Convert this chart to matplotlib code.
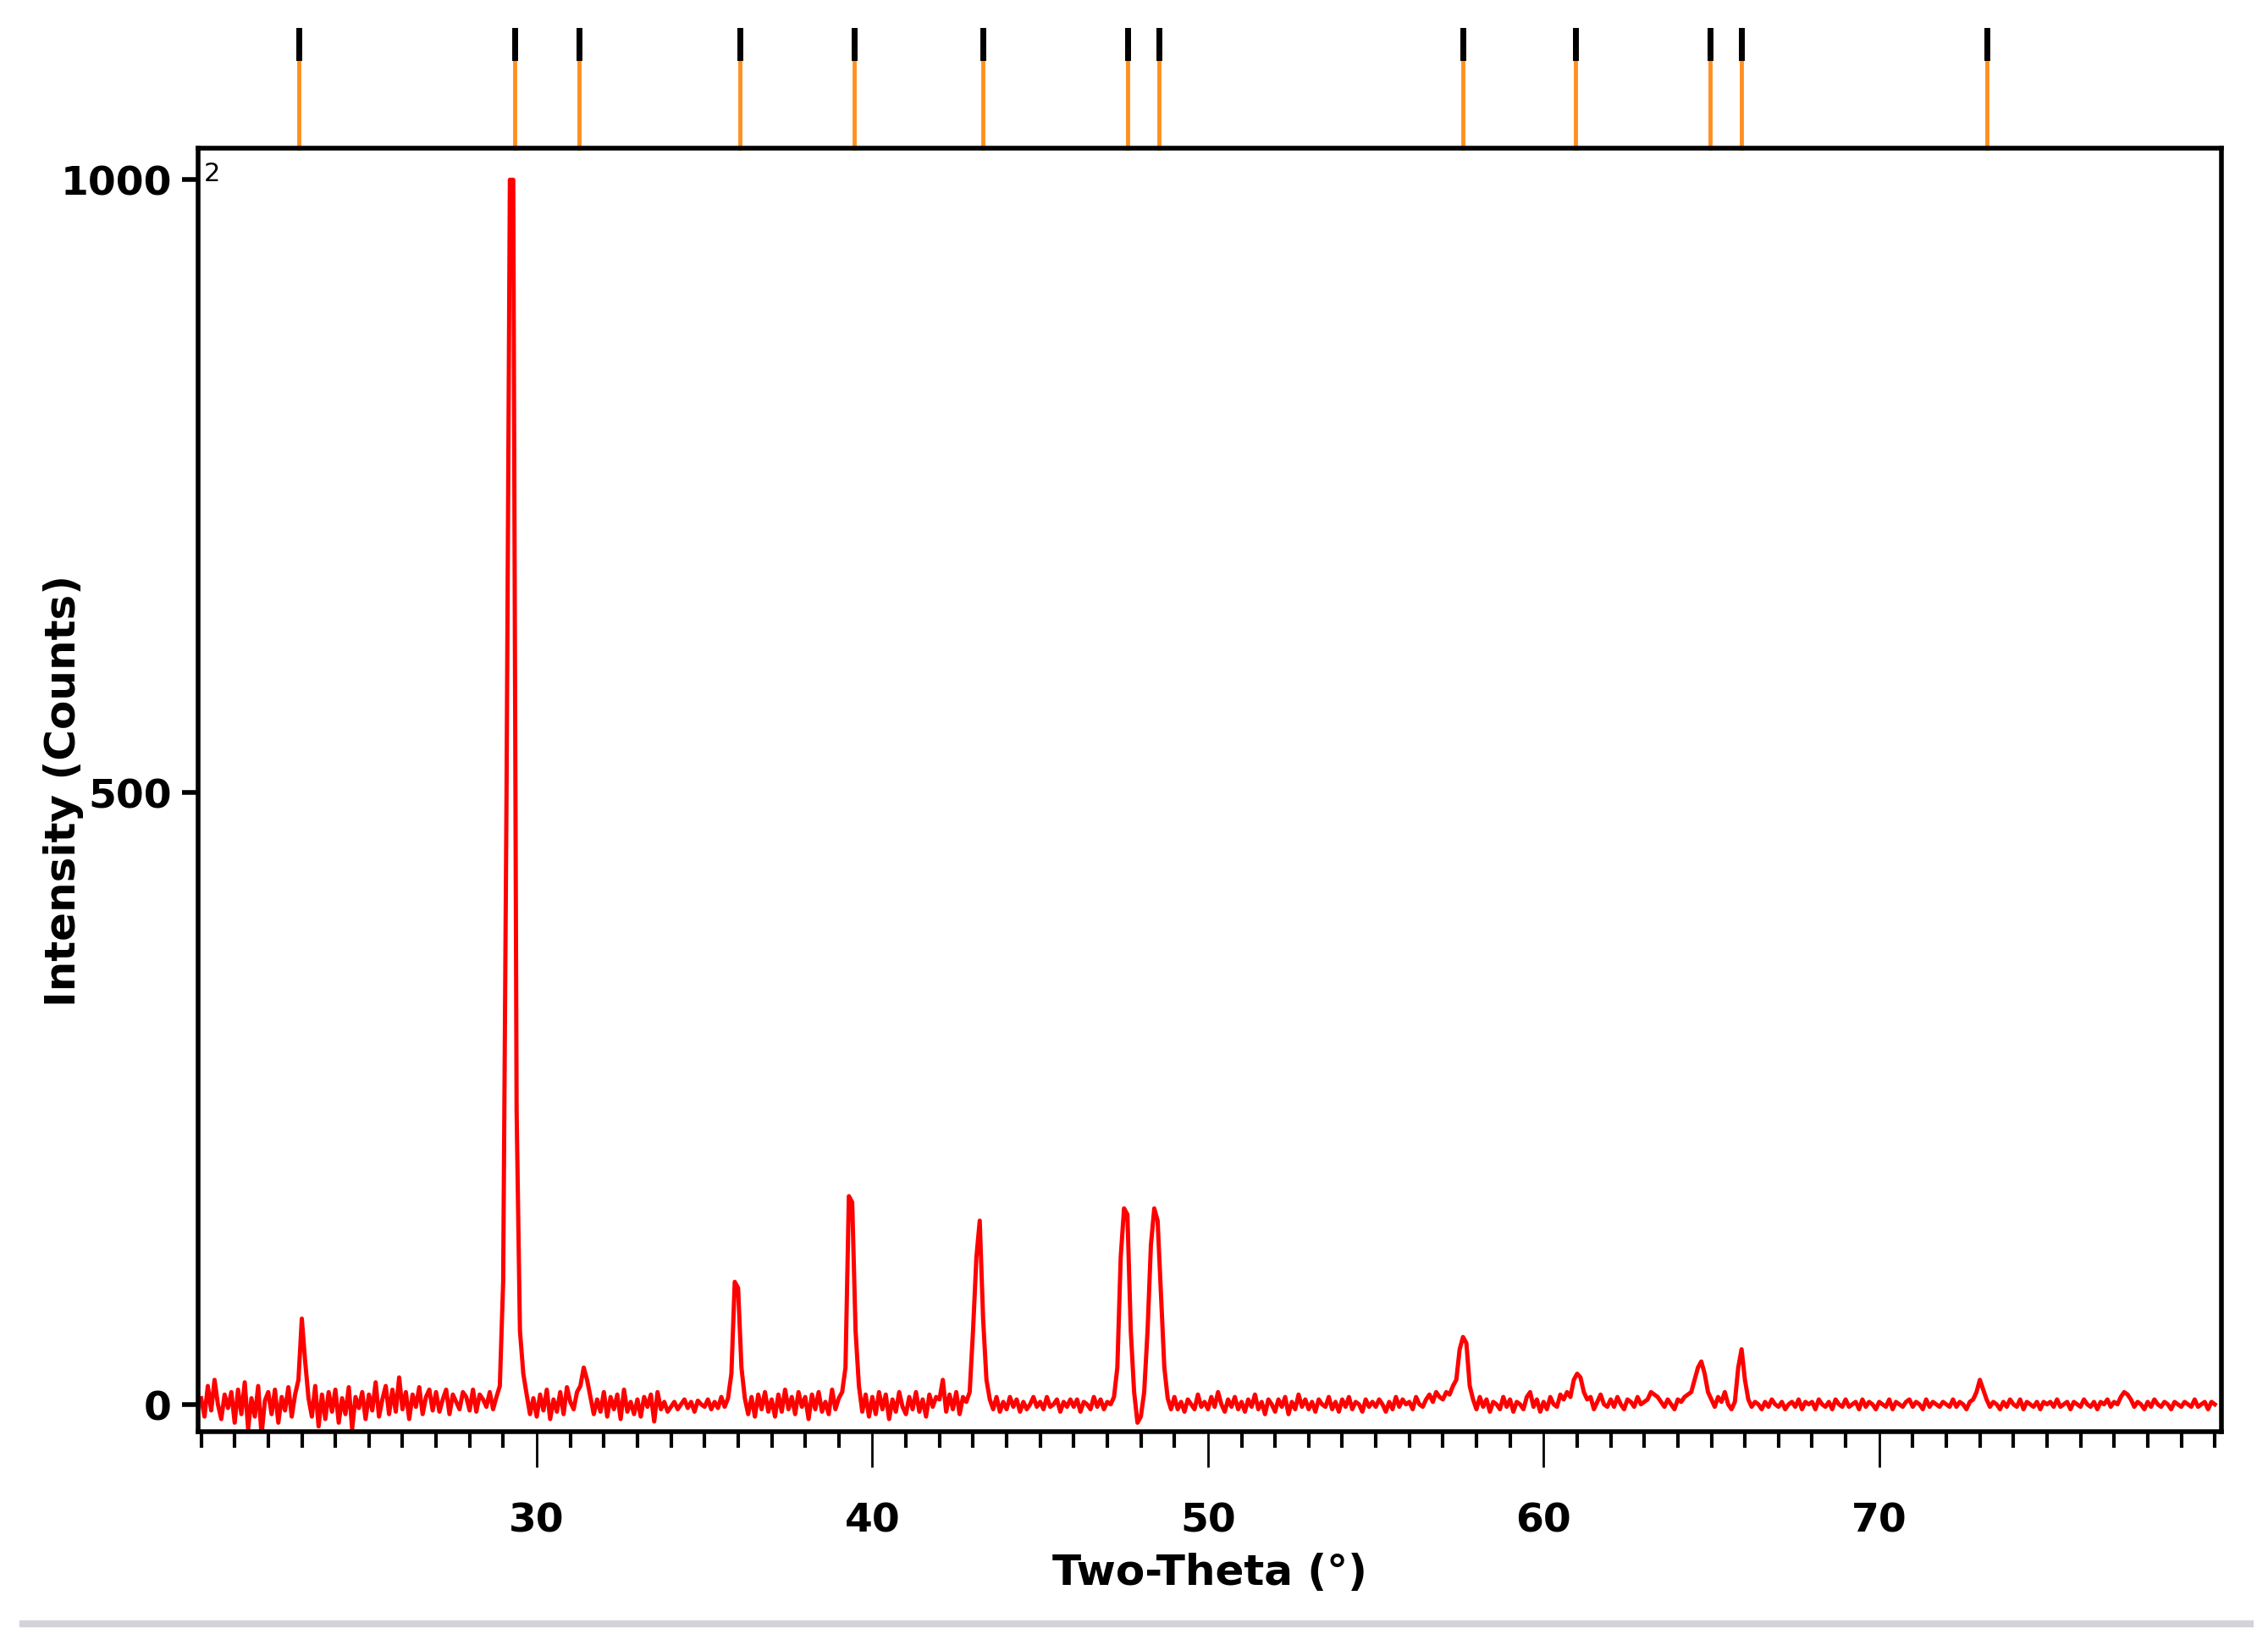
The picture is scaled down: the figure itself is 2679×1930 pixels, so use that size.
import numpy as np
import matplotlib
matplotlib.use("Agg")
import matplotlib.pyplot as plt
from matplotlib.ticker import MultipleLocator
from matplotlib.lines import Line2D

# Two-theta grid start/step and intensity (0.1 deg step)
theta_start = 20.0
theta_step = 0.1
intensity = [
    5, -10, 15, -5, 20, 0, -12, 8, -3, 10,
    -15, 12, -8, 18, -20, 5, -10, 15, -25, 3,
    10, -8, 12, -15, 6, -5, 14, -10, 8, 20,
    70, 35, 5, -10, 15, -18, 8, -12, 10, -6,
    12, -15, 5, -8, 14, -20, 6, -3, 10, -12,
    8, -5, 18, -10, 4, 15, -8, 12, -6, 22,
    -4, 10, -12, 8, -2, 14, -8, 6, 12, -5,
    10, -6, 4, 12, -8, 8, 2, -4, 10, 6,
    -5, 12, -6, 8, 4, -2, 10, -4, 6, 15,
    100, 500, 1000, 1000, 240, 60, 25, 8, -8, 5,
    -10, 8, -5, 12, -12, 4, -6, 10, -8, 14,
    2, -4, 10, 15, 30, 20, 6, -8, 4, -6,
    10, -10, 6, -4, 8, -12, 12, -6, 2, -8,
    4, -10, 6, -2, 8, -14, 10, -4, 2, -6,
    -2, 2, -4, 0, 4, -3, 2, -6, 3, 0,
    -2, 4, -4, 2, -3, 6, -2, 5, 25, 100,
    95, 30, 5, -8, 6, -10, 8, -4, 10, -6,
    4, -10, 8, -6, 12, -4, 6, -8, 10, -2,
    6, -12, 8, -4, 10, -6, 2, -8, 12, -4,
    5, 10, 30, 170, 165, 60, 15, -6, 8, -10,
    6, -8, 10, -4, 8, -12, 4, -6, 10, -2,
    -8, 6, -4, 10, -6, 4, -10, 8, -2, 6,
    4, 20, -6, 8, -4, 10, -8, 6, 2, 10,
    60, 120, 150, 70, 20, 4, -4, 6, -6, 2,
    -4, 6, -2, 4, -6, 2, -4, 0, 6, -2,
    2, -4, 6, -2, 0, 4, -6, 2, -2, 4,
    -2, 4, -6, 2, 0, -4, 6, -2, 4, -4,
    2, 0, 6, 30, 120, 160, 155, 60, 10, -15,
    -10, 10, 60, 130, 160, 150, 90, 30, 5, -4,
    6, -4, 2, -6, 4, 0, -4, 8, -2, 2,
    -4, 6, -2, 10, 0, -6, 4, -2, 6, -4,
    2, -6, 4, -2, 8, -4, 2, -8, 4, 0,
    -6, 4, -2, 6, -8, 2, -4, 8, -2, 4,
    -4, 2, -6, 4, 0, -2, 6, -4, 2, -6,
    4, -2, 6, -4, 2, 0, -6, 4, -2, 2,
    -2, 4, 0, -6, 2, -4, 6, -2, 4, 0,
    2, -4, 6, 0, -2, 4, 8, 2, 10, 6,
    4, 10, 8, 15, 20, 45, 55, 50, 15, 4,
    -4, 6, -2, 4, -6, 2, 0, -4, 6, -2,
    4, -6, 2, 0, -4, 6, 10, -2, 4, -6,
    2, -4, 6, 0, -2, 8, 4, 10, 6, 20,
    25, 22, 10, 4, 6, -4, 2, 8, 0, -2,
    4, -2, 6, 0, -4, 4, 2, -2, 6, 0,
    2, 4, 10, 8, 6, 2, -2, 4, 0, -4,
    4, 2, 6, 8, 10, 20, 30, 35, 25, 10,
    4, -2, 6, 2, 10, 0, -4, 2, 30, 45,
    20, 4, -2, 2, 0, -4, 2, -2, 4, 0,
    -2, 2, -4, 0, 2, -2, 4, -4, 2, 0,
    2, -4, 4, 0, -2, 2, -4, 4, 0, -2,
    4, -2, 0, 2, -4, 4, -2, 2, 0, -4,
    2, 0, -2, 4, -4, 2, 0, -2, 2, 4,
    -2, 2, 0, -4, 4, -2, 2, 0, -2, 2,
    0, -2, 4, -2, 2, 0, -4, 2, 4, 10,
    20, 12, 4, -2, 2, 0, -4, 2, -2, 4,
    0, -2, 4, -4, 2, 0, -2, 2, -4, 2,
    0, 2, -2, 4, -2, 0, 2, -4, 2, 0,
    -2, 4, 0, -2, 2, -4, 2, 0, 4, -2,
    2, 0, 6, 10, 8, 4, -2, 2, 0, -4,
    2, -2, 4, 0, -2, 2, 0, -4, 2, 0,
    -2, 2, 0, -2, 4, -2, 0, 2, -4, 2,
    0,
]
# reference pattern stick positions (deg)
ref_peaks = [22.9, 29.35, 31.25, 36.05, 39.45, 43.3, 47.6, 48.55,
             57.6, 60.95, 64.95, 65.9, 73.2]

theta = theta_start + theta_step * np.arange(len(intensity))

fig = plt.figure(figsize=(26.79, 19.31), dpi=100)
ax = fig.add_axes([0.0872, 0.124, 0.8923, 0.785])

ax.plot(theta, intensity, color="#ff0000", linewidth=3.6)
ax.set_xlim(19.9, 80.2)
ax.set_ylim(-22, 1026)

# stick markers above the plot
for p in ref_peaks:
    ax.add_line(Line2D([p, p], [1026, 1100], color="#ff9020", linewidth=3.5,
                       clip_on=False))
    ax.add_line(Line2D([p, p], [1100, 1122], color="black", linewidth=5,
                       clip_on=False))

ax.xaxis.set_major_locator(MultipleLocator(10))
ax.xaxis.set_minor_locator(MultipleLocator(1))
ax.set_xticks([30, 40, 50, 60, 70])
ax.set_yticks([0, 500, 1000])
ax.tick_params(axis="x", which="major", direction="out", length=30, width=2,
               pad=30, labelsize=34)
ax.tick_params(axis="x", which="minor", direction="out", length=14, width=3)
ax.tick_params(axis="y", direction="out", length=14, width=4, pad=8,
               labelsize=34)
for lab in ax.get_xticklabels() + ax.get_yticklabels():
    lab.set_fontweight("bold")
for s in ax.spines.values():
    s.set_linewidth(4)

ax.set_xlabel("Two-Theta (°)", fontsize=36, fontweight="bold", labelpad=10)
ax.set_ylabel("Intensity (Counts)", fontsize=36, fontweight="bold", labelpad=-20)
ax.text(0.003, 0.99, "2", transform=ax.transAxes, fontsize=22, va="top")

# grey rule at the bottom of the figure
fig.add_artist(Line2D([0.01, 0.992], [0.006, 0.006], color="#d4d4d8",
                      linewidth=6))

fig.savefig("out.png", dpi=100)
